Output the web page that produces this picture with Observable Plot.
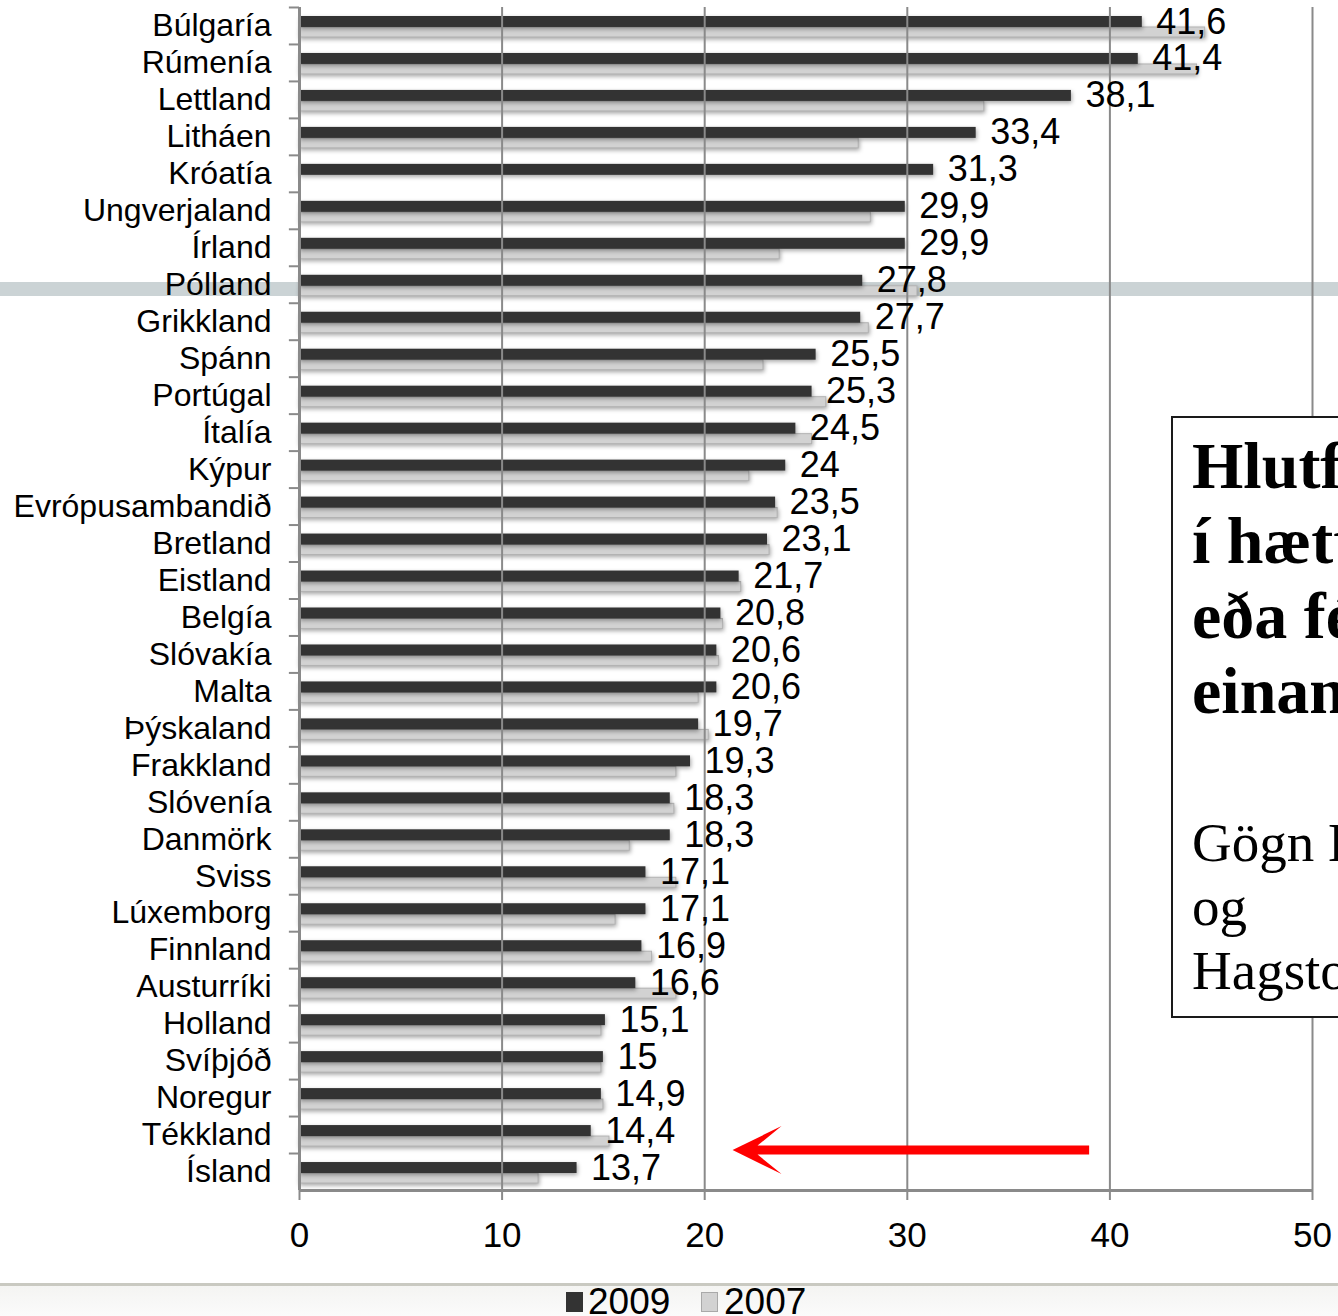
<!DOCTYPE html>
<html>
<head>
<meta charset="utf-8">
<script src="https://cdn.jsdelivr.net/npm/d3@7"></script>
<script src="https://cdn.jsdelivr.net/npm/@observablehq/plot@0.6"></script>
<style>
html,body{margin:0;padding:0;overflow:hidden;background:#fff}
#wrap{position:relative;width:1338px;height:1316px;overflow:hidden;font-family:"Liberation Sans",Arial,sans-serif}
#band{position:absolute;left:0;top:282px;width:1338px;height:14px;background:#cbd3d5}
#chart{position:absolute;left:0;top:0}
#chart svg g[aria-label="bar"]{filter:drop-shadow(1px 2px 2px rgba(0,0,0,0.35))}
#box{position:absolute;left:1171px;top:416px;width:420px;height:602px;box-sizing:border-box;border:2px solid #1a1a1a;background:#fff;white-space:nowrap}
#box .t{position:absolute;left:19px;top:10px;font:bold 66px/75px "Liberation Serif","Times New Roman",serif;color:#000}
#box .s{position:absolute;left:19px;top:393px;font:55px/64px "Liberation Serif","Times New Roman",serif;color:#000}
#foot{position:absolute;left:0;top:1286px;width:1338px;height:30px;background:linear-gradient(#f4f4f2,#fbfbfb)}
#sep{position:absolute;left:0;top:1283px;width:1338px;height:3px;background:#c9c9c1}
.lg-sw{position:absolute;top:1292px;width:17px;height:20px;box-sizing:border-box}
.lg-tx{position:absolute;top:1282px;font-size:37px;line-height:40px;color:#000}
</style>
</head>
<body>
<div id="wrap">
  <div id="band"></div>
  <div id="chart"></div>
  <div id="box">
    <div class="t">Hlutfall fólks<br>í hættu á fátækt<br>eða félagslegri<br>einangrun</div>
    <div class="s">Gögn Eurostat<br>og<br>Hagstofu Íslands</div>
  </div>
  <div id="foot"></div>
  <div id="sep"></div>
  <div id="legend"></div>
</div>
<script>
const countries = ["Búlgaría","Rúmenía","Lettland","Litháen","Króatía","Ungverjaland","Írland","Pólland","Grikkland","Spánn","Portúgal","Ítalía","Kýpur","Evrópusambandið","Bretland","Eistland","Belgía","Slóvakía","Malta","Þýskaland","Frakkland","Slóvenía","Danmörk","Sviss","Lúxemborg","Finnland","Austurríki","Holland","Svíþjóð","Noregur","Tékkland","Ísland"];
const values2009 = [41.6,41.4,38.1,33.4,31.3,29.9,29.9,27.8,27.7,25.5,25.3,24.5,24,23.5,23.1,21.7,20.8,20.6,20.6,19.7,19.3,18.3,18.3,17.1,17.1,16.9,16.6,15.1,15,14.9,14.4,13.7];
const values2007 = [44.7,44.3,33.8,27.6,null,28.2,23.7,30.5,28.1,22.9,26.0,25.3,22.2,23.6,23.2,21.8,20.9,20.7,19.7,20.2,18.6,18.5,16.3,18.6,15.6,17.4,18.6,14.9,14.9,15.0,15.3,11.8];
const xTicks = [0,10,20,30,40,50];
const seriesNames = ["2009","2007"];
const seriesColors = ["#333333","#d2d2d2"];
const arrowFrom = 39.0;
const arrowTo = 21.4;
const arrowTarget = "Ísland";

const d09 = countries.map((c,i)=>({country:c, value:values2009[i]}));
const d07 = countries.map((c,i)=>({country:c, value:values2007[i]})).filter(d=>d.value!=null);
const fmt = v => String(v).replace(".", ",");

function arrowMark(index, scales) {
  const x = scales.x, y = scales.y;
  const xa = x(arrowFrom), xb = x(arrowTo);
  const yc = y(arrowTarget) - 3;
  const p = [[xb,yc],[xb+49,yc-24],[xb+25,yc-4.5],[xa,yc-4.5],[xa,yc+4.5],[xb+25,yc+4.5],[xb+49,yc+24]];
  return d3.create("svg:path").attr("d","M"+p.map(q=>q.join(",")).join("L")+"Z").attr("fill","#ff0000").node();
}

const grid = "#8a8a8a";
const chart = Plot.plot({
  width:1338, height:1283,
  marginLeft:299, marginRight:26, marginTop:7, marginBottom:93,
  style:{background:"transparent", fontFamily:"'Liberation Sans', Arial, sans-serif", color:"#000"},
  x:{domain:[0,50]},
  y:{domain:countries, padding:0},
  marks:[
    Plot.barX(d07,{x:"value", y:"country", insetTop:20, insetBottom:7, fill:seriesColors[1], stroke:"#b3b3b3", strokeWidth:1}),
    Plot.barX(d09,{x:"value", y:"country", insetTop:9, insetBottom:17, fill:seriesColors[0]}),
    Plot.ruleX(xTicks.slice(1), {stroke:grid, strokeWidth:2}),
    Plot.ruleX([0], {stroke:grid, strokeWidth:3}),
    Plot.ruleY(countries, {y:d=>d, x1:-0.5, x2:0, dy:-18.5, stroke:grid, strokeWidth:2}),
    Plot.ruleY([countries[countries.length-1]], {y:d=>d, x1:0, x2:50, dy:18.5, stroke:grid, strokeWidth:3}),
    Plot.axisX({ticks:xTicks, tickSize:10, tickPadding:22, fontSize:35, stroke:grid, strokeWidth:2, label:null}),
    Plot.axisY({tickSize:0, tickPadding:28, fontSize:32, label:null}),
    Plot.text(d09,{x:"value", y:"country", text:d=>fmt(d.value), dx:14, dy:-4, textAnchor:"start", fontSize:36, fill:"#000"}),
    arrowMark
  ]
});
document.getElementById("chart").append(chart);

const legend = document.getElementById("legend");
const lgPos = [[566,588],[701,724]];
seriesNames.forEach((name,i)=>{
  const sw = document.createElement("div");
  sw.className = "lg-sw";
  sw.style.left = lgPos[i][0]+"px";
  sw.style.background = seriesColors[i];
  if (i===1) sw.style.border = "1px solid #a9a9a9";
  legend.append(sw);
  const tx = document.createElement("div");
  tx.className = "lg-tx";
  tx.style.left = lgPos[i][1]+"px";
  tx.textContent = name;
  legend.append(tx);
});
</script>
</body>
</html>
